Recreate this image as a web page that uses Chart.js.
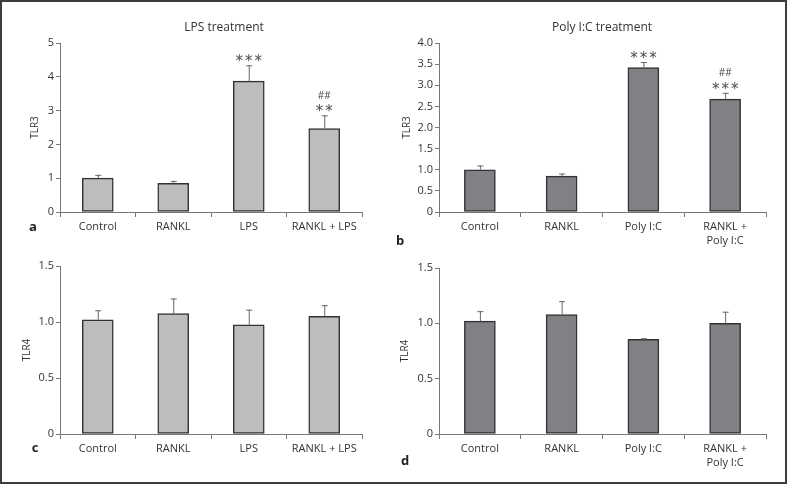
<!DOCTYPE html>
<html>
<head>
<meta charset="utf-8">
<script src="https://cdn.jsdelivr.net/npm/chart.js@4.4.0/dist/chart.umd.min.js"></script>
<style>
  body { margin: 0; background: #fff; }
  #fig { position: relative; width: 787px; height: 486px; }
  #frame { position: absolute; left: 0; top: 0; width: 783px; height: 480px; border: 2px solid #3c3c3c; }
  canvas { position: absolute; }
</style>
</head>
<body>
<div id="fig">
  <div id="frame"></div>
  <canvas id="pa" width="390" height="252" style="left:0;top:0"></canvas>
  <canvas id="pb" width="397" height="252" style="left:390px;top:0"></canvas>
  <canvas id="pc" width="390" height="240" style="left:0;top:240px"></canvas>
  <canvas id="pd" width="397" height="240" style="left:390px;top:240px"></canvas>
</div>
<script>
// categories
const lpsCategories = ['Control', 'RANKL', 'LPS', 'RANKL + LPS'];
const polyCategories = ['Control', 'RANKL', 'Poly I:C', ['RANKL +', 'Poly I:C']];

// TLR3 (top row)
const tlr3Lps = [1.0, 0.85, 3.87, 2.47];
const tlr3LpsErr = [0.1, 0.07, 0.47, 0.39];
const tlr3Poly = [1.0, 0.85, 3.42, 2.67];
const tlr3PolyErr = [0.1, 0.06, 0.13, 0.15];

// TLR4 (bottom row)
const tlr4Lps = [1.02, 1.075, 0.975, 1.05];
const tlr4LpsErr = [0.085, 0.135, 0.135, 0.1];
const tlr4Poly = [1.02, 1.08, 0.855, 1.0];
const tlr4PolyErr = [0.09, 0.12, 0.01, 0.105];

// significance marks
const starsLps = ['', '', '***', '**'];
const hashLps = ['', '', '', '##'];
const starsPoly = ['', '', '***', '***'];
const hashPoly = ['', '', '', '##'];

const FONT = '"Open Sans", "DejaVu Sans", sans-serif';
const lightGray = '#bdbdbf';
const darkGray = '#808184';

function fmtDec(v) { return v === 0 ? '0' : v.toFixed(1); }
function fmtInt(v) { return String(v); }

// error bars, stars, titles and panel letters
function decor(p) {
  return {
    id: 'decor',
    afterDatasetsDraw(chart) {
      const ctx = chart.ctx;
      const y = chart.scales.y;
      const meta = chart.getDatasetMeta(0);
      ctx.save();
      meta.data.forEach((bar, i) => {
        const top = y.getPixelForValue(p.values[i] + p.errs[i]);
        ctx.strokeStyle = '#666';
        ctx.lineWidth = 1;
        ctx.beginPath();
        ctx.moveTo(bar.x + 0.5, bar.y);
        ctx.lineTo(bar.x + 0.5, top);
        ctx.moveTo(bar.x - 2.5, top + 0.5);
        ctx.lineTo(bar.x + 3.5, top + 0.5);
        ctx.stroke();

        ctx.fillStyle = '#4a4a4a';
        ctx.textAlign = 'center';
        ctx.textBaseline = 'alphabetic';
        const s = p.stars[i];
        const starY = top - 8;
        if (s) {
          ctx.font = '15px "DejaVu Sans"';
          const n = s.length;
          for (let k = 0; k < n; k++) {
            const dx = (k - (n - 1) / 2) * 9.5;
            ctx.fillText('*', bar.x + dx, starY + 9);
          }
        }
        if (p.hash[i]) {
          ctx.font = '10px ' + FONT;
          ctx.textBaseline = 'middle';
          ctx.fillText(p.hash[i], bar.x, starY - 11.5);
        }
      });
      ctx.restore();
    },
    afterDraw(chart) {
      const ctx = chart.ctx;
      ctx.save();
      ctx.fillStyle = '#333';
      ctx.textAlign = 'center';
      ctx.textBaseline = 'middle';
      if (p.title) {
        ctx.font = '12px ' + FONT;
        ctx.fillText(p.title, p.titleX - p.box[0], 28 - p.box[1]);
      }
      ctx.font = 'bold 13px ' + FONT;
      ctx.fillStyle = '#222';
      ctx.fillText(p.letter, p.letterPos[0] - p.box[0], p.letterPos[1] - p.box[1]);
      ctx.restore();
    }
  };
}

function makePanel(p) {
  const [bx, by, bw, bh] = p.box;
  const [al, at, ar, ab] = p.area;
  new Chart(document.getElementById(p.id), {
    type: 'bar',
    data: {
      labels: p.labels,
      datasets: [{
        data: p.values,
        backgroundColor: p.fill,
        borderColor: '#333',
        borderWidth: 1.5,
        borderSkipped: false,
        barThickness: 31
      }]
    },
    options: {
      responsive: false,
      animation: false,
      devicePixelRatio: 1,
      layout: { padding: { left: 0, top: at - by, right: bx + bw - ar, bottom: 0 } },
      plugins: { legend: { display: false }, tooltip: { enabled: false } },
      scales: {
        x: {
          grid: { offset: true, drawOnChartArea: false, tickLength: 5, color: '#777' },
          border: { color: '#777' },
          ticks: { padding: 3, color: '#333', maxRotation: 0, autoSkip: false,
                   font: { family: FONT, size: 11, lineHeight: 1.25 } },
          afterFit(s) { s.height = by + bh - ab; }
        },
        y: {
          min: 0, max: p.yMax,
          grid: { drawOnChartArea: false, tickLength: 4, color: '#777' },
          border: { color: '#777' },
          ticks: { stepSize: p.yStep, padding: 2, color: '#333',
                   font: { family: FONT, size: 11 }, callback: p.fmt },
          title: { display: true, text: p.yTitle, color: '#333',
                   padding: { top: p.yTitlePad, bottom: 0 },
                   font: { family: FONT, size: 10 } },
          afterFit(s) { s.width = al - bx; }
        }
      }
    },
    plugins: [decor(p)]
  });
}

makePanel({
  id: 'pa', box: [0, 0, 390, 252], area: [60, 43, 362, 212],
  labels: lpsCategories, values: tlr3Lps, errs: tlr3LpsErr, stars: starsLps, hash: hashLps,
  yMax: 5, yStep: 1, fmt: fmtInt, fill: lightGray, yTitle: 'TLR3', yTitlePad: 29,
  title: 'LPS treatment', titleX: 224, letter: 'a', letterPos: [33, 227]
});
makePanel({
  id: 'pb', box: [390, 0, 397, 252], area: [439, 43, 766, 212],
  labels: polyCategories, values: tlr3Poly, errs: tlr3PolyErr, stars: starsPoly, hash: hashPoly,
  yMax: 4, yStep: 0.5, fmt: fmtDec, fill: darkGray, yTitle: 'TLR3', yTitlePad: 11,
  title: 'Poly I:C treatment', titleX: 602, letter: 'b', letterPos: [400, 241]
});
makePanel({
  id: 'pc', box: [0, 240, 390, 240], area: [60, 266, 362, 434],
  labels: lpsCategories, values: tlr4Lps, errs: tlr4LpsErr, stars: ['', '', '', ''], hash: ['', '', '', ''],
  yMax: 1.5, yStep: 0.5, fmt: fmtDec, fill: lightGray, yTitle: 'TLR4', yTitlePad: 21,
  title: '', titleX: 0, letter: 'c', letterPos: [35, 448]
});
makePanel({
  id: 'pd', box: [390, 240, 397, 240], area: [439, 268, 766, 434],
  labels: polyCategories, values: tlr4Poly, errs: tlr4PolyErr, stars: ['', '', '', ''], hash: ['', '', '', ''],
  yMax: 1.5, yStep: 0.5, fmt: fmtDec, fill: darkGray, yTitle: 'TLR4', yTitlePad: 9,
  title: '', titleX: 0, letter: 'd', letterPos: [405, 461]
});
</script>
</body>
</html>
